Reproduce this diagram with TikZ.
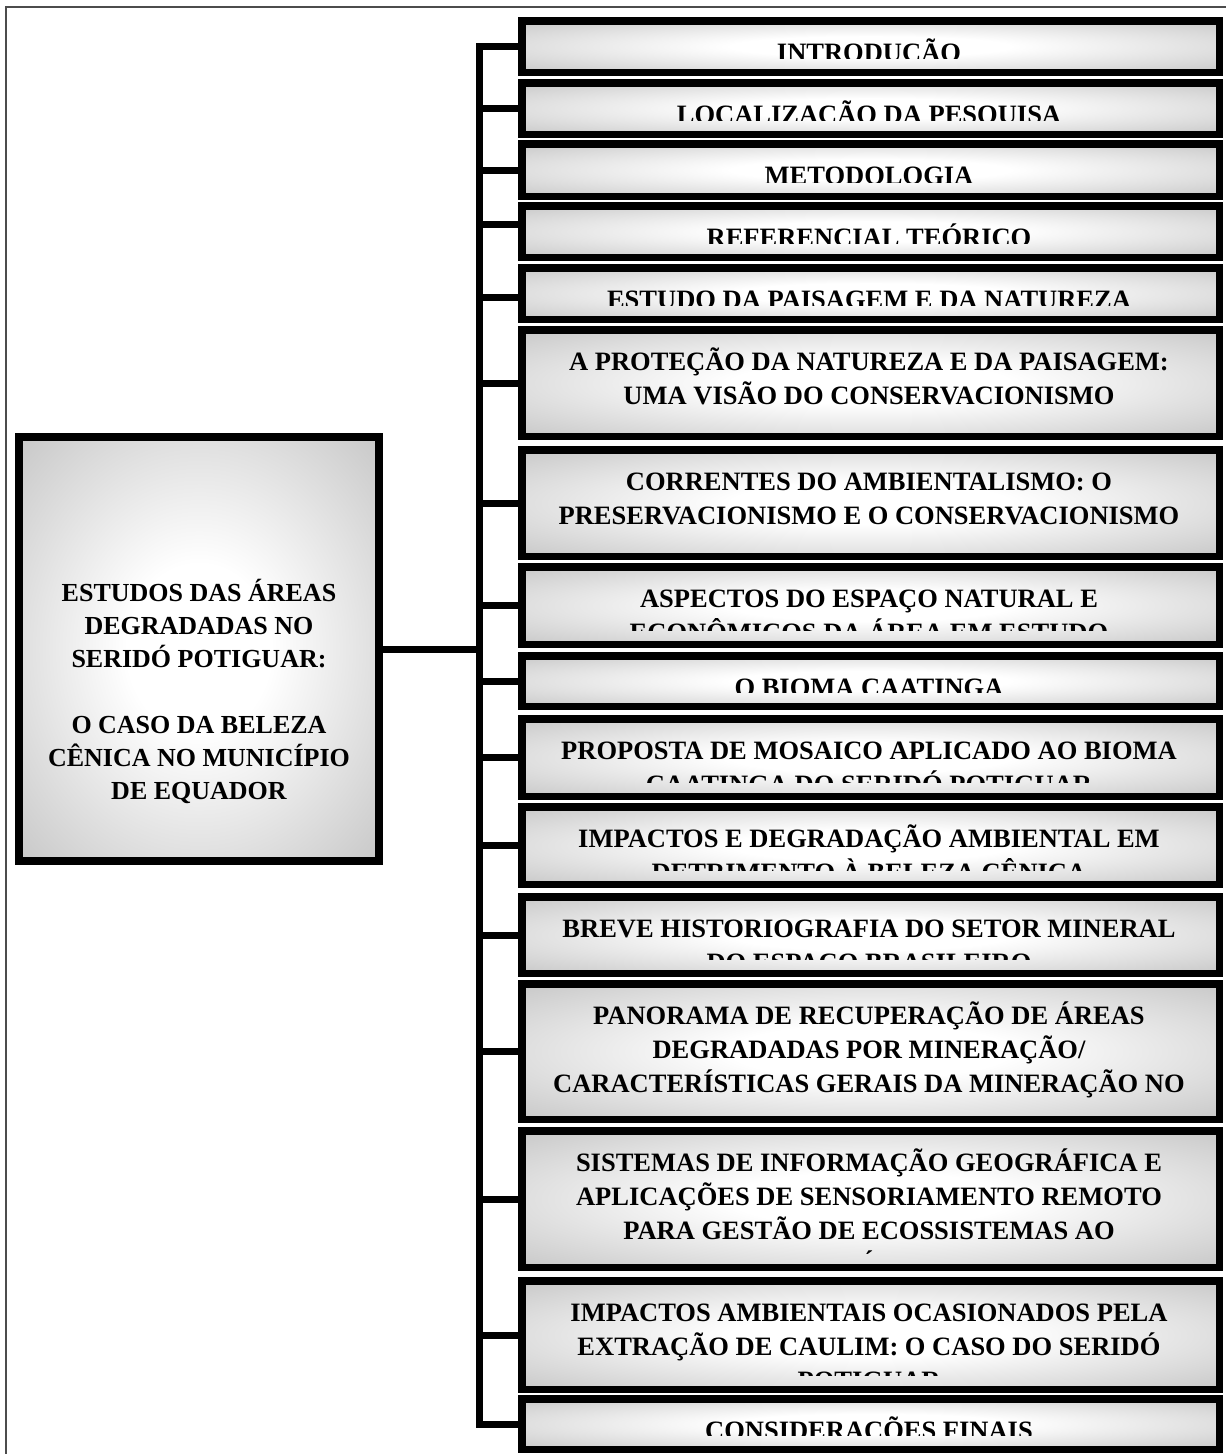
\documentclass[tikz,border=0pt]{standalone}
\usepackage{fontspec}
\setmainfont{Liberation Serif}

% centred stack of lines with a fixed baseline pitch; its baseline is the first line's
\newcommand\stack[2]{\vtop{\baselineskip=#1pt\lineskiplimit=-1000pt\lineskip=0pt
  \halign{\hfil##\hfil\cr#2\crcr}}}

% grey-to-white glow used inside every box
\pgfdeclareradialshading{glow}{\pgfpoint{0bp}{0bp}}{%
  color(0bp)=(white); color(10bp)=(white); color(50bp)=(gray!68); color(72bp)=(gray!88)}

\tikzset{
  label text/.style={font=\bfseries\fontsize{26}{33}\selectfont, inner sep=0pt, text=black},
  topic text/.style={font=\bfseries\fontsize{26.5}{33}\selectfont, inner sep=0pt, text=black},
  topic/.style={draw=black, line width=7.5pt, shading=glow, minimum width=697.5pt,
                inner sep=0pt, line join=miter},
  hub/.style={draw=black, line width=8pt, shading=glow, inner sep=0pt, line join=miter},
  link/.style={draw=black, line width=7pt, line join=miter},
  page frame/.style={draw=black!70, line width=1.5pt}
}

% #1 name, #2 top edge, #3 bottom edge, #4 lines of text
\newcommand\topic[4]{%
  \node[topic, minimum height={#3-#2-7.5}] (#1) at (870.5,{(#2+#3)/2}) {};
  \begin{scope}
    \clip (518,#2) rectangle (1223,{#3-17.5});
    \node[topic text, anchor=base] (#1t) at (869,{#2+44}) {\stack{34}{#4}};
  \end{scope}}

\begin{document}
\begin{tikzpicture}[x=1pt, y=-1pt]
  \useasboundingbox (0,0) rectangle (1226,1454);
  \fill[white] (0,0) rectangle (1226,1454);
  \draw[page frame] (6,1454) -- (6,7) -- (1226,7);

  % central theme
  \node[hub, minimum width=360pt, minimum height=424pt] (main) at (199,649) {};
  \node[label text, anchor=base] (maint) at (199,601) {\stack{33}{%
    ESTUDOS DAS ÁREAS\cr DEGRADADAS NO\cr SERIDÓ POTIGUAR:\cr\cr
    O CASO DA BELEZA\cr CÊNICA NO MUNICÍPIO\cr DE EQUADOR}};

  % chapters
  \topic{b1}{17}{76}{INTRODUÇÃO}
  \topic{b2}{79}{138}{LOCALIZAÇÃO DA PESQUISA}
  \topic{b3}{140}{200}{METODOLOGIA}
  \topic{b4}{202}{261}{REFERENCIAL TEÓRICO}
  \topic{b5}{264}{323}{ESTUDO DA PAISAGEM E DA NATUREZA}
  \topic{b6}{326}{440}{A PROTEÇÃO DA NATUREZA E DA PAISAGEM:\cr UMA VISÃO DO CONSERVACIONISMO}
  \topic{b7}{446}{560}{CORRENTES DO AMBIENTALISMO: O\cr PRESERVACIONISMO E O CONSERVACIONISMO}
  \topic{b8}{563}{648}{ASPECTOS DO ESPAÇO NATURAL E\cr ECONÔMICOS DA ÁREA EM ESTUDO}
  \topic{b9}{652}{710}{O BIOMA CAATINGA}
  \topic{b10}{715}{800}{PROPOSTA DE MOSAICO APLICADO AO BIOMA\cr CAATINGA DO SERIDÓ POTIGUAR}
  \topic{b11}{803}{888}{IMPACTOS E DEGRADAÇÃO AMBIENTAL EM\cr DETRIMENTO À BELEZA CÊNICA}
  \topic{b12}{893}{977}{BREVE HISTORIOGRAFIA DO SETOR MINERAL\cr DO ESPAÇO BRASILEIRO}
  \topic{b13}{980}{1123}{PANORAMA DE RECUPERAÇÃO DE ÁREAS\cr DEGRADADAS POR MINERAÇÃO/\cr CARACTERÍSTICAS GERAIS DA MINERAÇÃO NO}
  \topic{b14}{1127}{1271}{SISTEMAS DE INFORMAÇÃO GEOGRÁFICA E\cr APLICAÇÕES DE SENSORIAMENTO REMOTO\cr PARA GESTÃO DE ECOSSISTEMAS AO\cr SEMIÁRIDO}
  \topic{b15}{1277}{1393}{IMPACTOS AMBIENTAIS OCASIONADOS PELA\cr EXTRAÇÃO DE CAULIM: O CASO DO SERIDÓ\cr POTIGUAR}
  \topic{b16}{1395}{1453}{CONSIDERAÇÕES FINAIS}

  % bracket joining the chapters to the theme
  \coordinate (trunk) at (479.5,0);
  \coordinate (s4) at ([yshift=7.5pt]b4.west);
  \coordinate (s5) at ([yshift=-3.5pt]b5.west);
  \draw[link] (b1.west) -- (b1.west -| trunk) -- (b16.west -| trunk) -- (b16.west);
  \foreach \n in {2,3,6,7,8,9,10,11,12,13,14,15}
    \draw[link] (b\n.west) -- (b\n.west -| trunk);
  \draw[link] (s4) -- (s4 -| trunk);
  \draw[link] (s5) -- (s5 -| trunk);
  \draw[link] (main.east) -- (main.east -| trunk);
\end{tikzpicture}
\end{document}
